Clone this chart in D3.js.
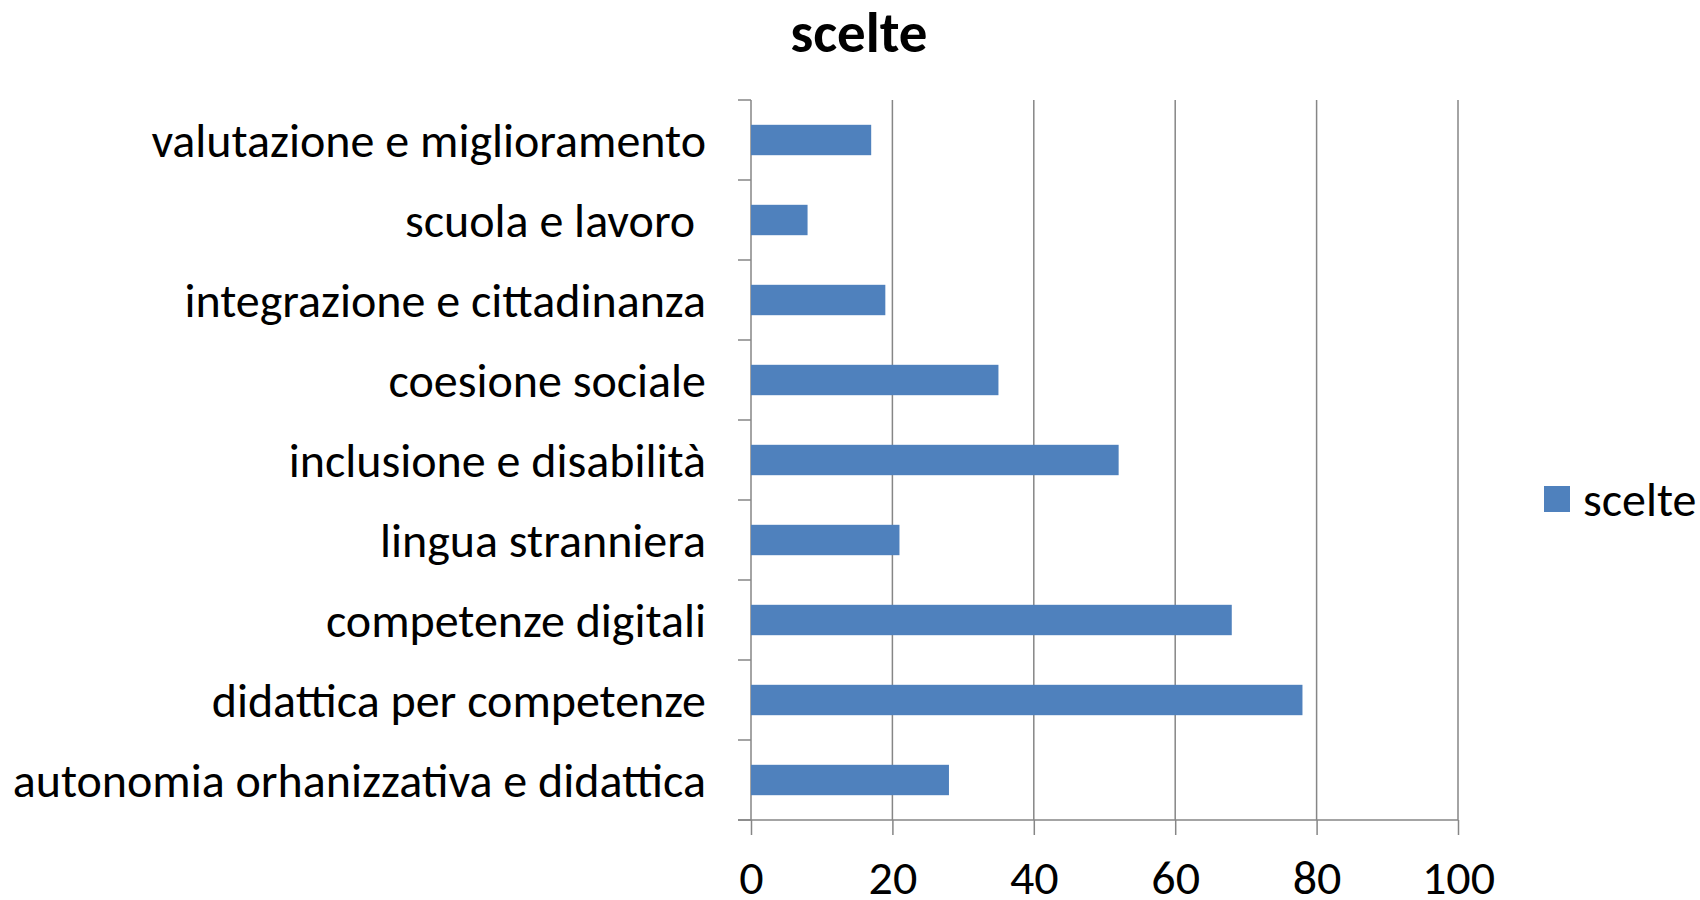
<!DOCTYPE html>
<html>
<head>
<meta charset="utf-8">
<script src="https://cdn.jsdelivr.net/npm/d3@7"></script>
<style>
  body { margin: 0; background: #fff; }
  text { font-family: Carlito, Calibri, "Open Sans", sans-serif; }
</style>
</head>
<body>
<div id="chart"></div>
<script>
// Data
const categories = [
  "valutazione e miglioramento",
  "scuola e lavoro ",
  "integrazione e cittadinanza",
  "coesione sociale",
  "inclusione e disabilità",
  "lingua stranniera",
  "competenze digitali",
  "didattica per competenze",
  "autonomia orhanizzativa e didattica"
];
const values = [17, 8, 19, 35, 52, 21, 68, 78, 28];
const xTicks = [0, 20, 40, 60, 80, 100];
const seriesName = "scelte";

const W = 1700, H = 900;
const margin = { top: 100, left: 751, right: 242, bottom: 80 };
const width = W - margin.left - margin.right,
  height = H - margin.top - margin.bottom;

const svg = d3.select("#chart").append("svg")
  .attr("width", W)
  .attr("height", H);

// Title
svg.append("text")
  .attr("x", 859)
  .attr("y", 52)
  .attr("text-anchor", "middle")
  .style("font-size", "57px")
  .style("font-weight", "bold")
  .text(seriesName);

const g = svg.append("g")
  .attr("transform", "translate(" + margin.left + "," + margin.top + ")");

const x = d3.scaleLinear().domain([0, 100]).range([0, width]);
const y = d3.scaleBand()
  .domain(categories)
  .range([0, height])
  .paddingInner(0.62)
  .paddingOuter(0.31);

// Vertical gridlines
g.selectAll(".grid")
  .data(xTicks.slice(1))
  .enter().append("line")
  .attr("class", "grid")
  .attr("x1", d => x(d)).attr("x2", d => x(d))
  .attr("y1", 0).attr("y2", height)
  .attr("stroke", "#868686")
  .attr("stroke-width", 1.5);

// X axis
const xAxis = g.append("g")
  .attr("transform", "translate(0," + height + ")")
  .call(d3.axisBottom(x).tickValues(xTicks).tickSize(15).tickPadding(25));
xAxis.select(".domain").attr("stroke", "#868686").attr("stroke-width", 1.5)
  .attr("d", "M-13,0H" + width);
xAxis.selectAll(".tick line").attr("stroke", "#868686").attr("stroke-width", 1.5);
xAxis.selectAll(".tick text")
  .attr("fill", "#000")
  .style("font-size", "48px")
  .style("font-family", "Carlito, Calibri, 'Open Sans', sans-serif");

// Y axis: ticks at band boundaries
const step = y.step();
const boundaries = d3.range(categories.length + 1).map(i => i * step);
g.append("line")
  .attr("x1", 0).attr("x2", 0).attr("y1", 0).attr("y2", height)
  .attr("stroke", "#868686").attr("stroke-width", 1.5);
g.selectAll(".ytick")
  .data(boundaries)
  .enter().append("line")
  .attr("class", "ytick")
  .attr("x1", -13).attr("x2", 0)
  .attr("y1", d => d).attr("y2", d => d)
  .attr("stroke", "#868686").attr("stroke-width", 1.5);

g.selectAll(".ylabel")
  .data(categories)
  .enter().append("text")
  .attr("class", "ylabel")
  .attr("x", -45)
  .attr("y", d => y(d) + y.bandwidth() / 2)
  .attr("dy", "0.35em")
  .attr("text-anchor", "end")
  .style("font-size", "48px")
  .style("white-space", "pre")
  .text(d => d);

// Bars
g.selectAll(".bar")
  .data(categories)
  .enter().append("rect")
  .attr("class", "bar")
  .attr("x", 0)
  .attr("y", d => y(d))
  .attr("width", (d, i) => x(values[i]))
  .attr("height", y.bandwidth())
  .attr("fill", "#4f81bd");

// Legend
const legend = svg.append("g").attr("transform", "translate(1544,486)");
legend.append("rect")
  .attr("width", 26).attr("height", 26)
  .attr("fill", "#4f81bd");
legend.append("text")
  .attr("x", 39).attr("y", 13)
  .attr("dy", "0.35em")
  .style("font-size", "48px")
  .text(seriesName);
</script>
</body>
</html>
